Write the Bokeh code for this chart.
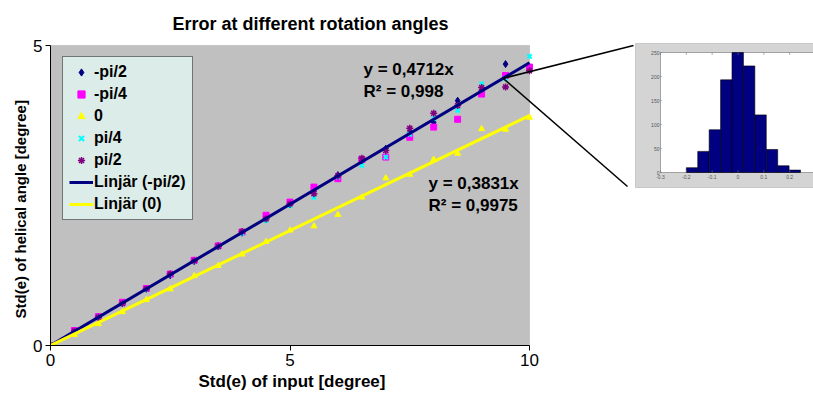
import math

from bokeh.core.properties import value
from bokeh.embed import file_html
from bokeh.models import BoxAnnotation, FixedTicker, Label, Range1d, Title
from bokeh.plotting import figure
from bokeh.resources import INLINE

# ---- data -------------------------------------------------------------
std_input = [0, 0.5, 1, 1.5, 2, 2.5, 3, 3.5, 4, 4.5, 5,
             5.5, 6, 6.5, 7, 7.5, 8, 8.5, 9, 9.5, 10]
angle_neg_pi2 = [0, 0.24, 0.47, 0.71, 0.95, 1.17, 1.41, 1.66, 1.88, 2.12, 2.35,
                 2.58, 2.84, 3.06, 3.28, 3.55, 3.72, 4.08, 4.25, 4.69, 4.60]
angle_neg_pi4 = [0, 0.25, 0.48, 0.72, 0.95, 1.19, 1.42, 1.66, 1.89, 2.17, 2.39,
                 2.64, 2.78, 3.10, 3.14, 3.47, 3.64, 3.77, 4.19, 4.50, 4.64]
angle_zero = [0, 0.18, 0.36, 0.56, 0.76, 0.94, 1.16, 1.33, 1.52, 1.73, 1.92,
              1.99, 2.18, 2.47, 2.79, 2.85, 3.10, 3.20, 3.61, 3.60, 3.80]
angle_pos_pi4 = [0, 0.23, 0.47, 0.70, 0.93, 1.18, 1.40, 1.64, 1.87, 2.08, 2.33,
                 2.47, 2.81, 3.00, 3.14, 3.52, 3.78, 3.92, 4.36, 4.45, 4.82]
angle_pos_pi2 = [0, 0.24, 0.47, 0.70, 0.94, 1.19, 1.41, 1.65, 1.90, 2.11, 2.36,
                 2.53, 2.83, 3.12, 3.25, 3.62, 3.87, 4.00, 4.30, 4.31, 4.58]

slope_neg_pi2 = 0.4712
r2_neg_pi2 = "0,998"
slope_zero = 0.3831
r2_zero = "0,9975"

x_ticks = [0, 5, 10]
y_ticks = [0, 5]

# histogram shown in the inset
hist_counts = [10, 44, 89, 193, 250, 222, 120, 48, 14, 5]
hist_first_edge = -0.2
hist_bin_width = 0.0442
inset_x_ticks = [-0.3, -0.2, -0.1, 0, 0.1, 0.2]
inset_x_labels = ["-0.3", "-0.2", "-0.1", "0", "0.1", "0.2"]
inset_y_ticks = [0, 50, 100, 150, 200, 250]

# ---- page geometry (pixels) -------------------------------------------
W, H = 813, 395
FRAME_L, FRAME_R, FRAME_T, FRAME_B = 50, 813, 42, 345
X_UNIT_PX = (529 - 50) / 10.0      # pixels per degree on x
Y_UNIT_PX = (345 - 45) / 5.0       # pixels per degree on y


def px_x(px):
    return (px - FRAME_L) / X_UNIT_PX


def px_y(py):
    return (FRAME_B - py) / Y_UNIT_PX


FONT = "Liberation Sans"

p = figure(
    width=W, height=H,
    x_range=Range1d(0, px_x(FRAME_R)), y_range=Range1d(0, px_y(FRAME_T)),
    output_backend="svg", toolbar_location=None,
    min_border_left=FRAME_L, min_border_right=W - FRAME_R,
    min_border_top=FRAME_T, min_border_bottom=H - FRAME_B,
)
p.outline_line_color = None
p.grid.visible = False
p.background_fill_color = "white"
p.border_fill_color = "white"

# chart title and axis titles, placed over the grey plotting area (x 0..10)
p.title.text = "Error at different rotation angles"
p.title.align = "left"
p.title.vertical_align = "top"
p.title.offset = 122
p.title.standoff = 14
p.title.text_font = FONT
p.title.text_font_size = "18px"
p.title.text_font_style = "bold"
p.title.text_color = "black"

p.add_layout(Title(text="Std(e) of input [degree]", align="left", offset=148,
                   standoff=2, text_font=FONT, text_font_size="17px",
                   text_font_style="bold", text_color="black"), "below")
p.add_layout(Title(text="Std(e) of helical angle [degree]", align="left",
                   offset=27, standoff=4, text_font=FONT, text_font_size="15px",
                   text_font_style="bold", text_color="black"), "left")

# grey plotting area bounded by the axes
p.add_layout(BoxAnnotation(left=0, right=10, bottom=0, top=5,
                           fill_color="#c0c0c0", fill_alpha=1.0,
                           line_color="#8c8c8c", line_width=1, level="underlay"))

for ax, bounds, ticks in ((p.xaxis, (0, 10), x_ticks), (p.yaxis, (0, 5), y_ticks)):
    ax.bounds = bounds
    ax.ticker = FixedTicker(ticks=ticks)
    ax.minor_tick_line_color = None
    ax.major_tick_in = 0
    ax.major_tick_out = 5
    ax.axis_line_color = "black"
    ax.major_tick_line_color = "black"
    ax.major_label_text_font = FONT
    ax.major_label_text_font_size = "17px"
    ax.major_label_text_color = "black"
    ax.major_label_standoff = 3

# ---- measured points --------------------------------------------------
p.scatter(std_input, angle_neg_pi2, marker="diamond", size=7,
          fill_color="#000080", line_color="#000080", legend_label="-pi/2")
p.scatter(std_input, angle_neg_pi4, marker="square", size=6,
          fill_color="#ff00ff", line_color="#ff00ff", legend_label="-pi/4")
p.scatter(std_input, angle_zero, marker="triangle", size=6,
          fill_color="#ffff00", line_color="#ffff00", legend_label="0")
p.scatter(std_input, angle_pos_pi4, marker="x", size=6,
          line_color="#00ffff", line_width=2, legend_label="pi/4")
p.scatter(std_input, angle_pos_pi2, marker="asterisk", size=7,
          line_color="#800080", line_width=1.5, legend_label="pi/2")

# ---- linear trend lines through the origin -----------------------------
x_fit = [0, 10]
p.line(x_fit, [slope_neg_pi2 * x for x in x_fit], line_color="#000080",
       line_width=3, legend_label="Linjär (-pi/2)")
p.line(x_fit, [slope_zero * x for x in x_fit], line_color="#ffff00",
       line_width=3, legend_label="Linjär (0)")

leg = p.legend[0]
leg.location = (12, FRAME_B - 220)
leg.background_fill_color = "#dcece8"
leg.background_fill_alpha = 1.0
leg.border_line_color = "black"
leg.border_line_width = 1
leg.label_text_font = FONT
leg.label_text_font_style = "bold"
leg.label_text_font_size = "16px"
leg.label_text_color = "black"
leg.padding = 6
leg.spacing = 4
leg.margin = 0
leg.glyph_width = 24
leg.glyph_height = 18
leg.label_height = 18
leg.label_standoff = 1

# ---- trend-line equations -----------------------------------------------
def add_text(x, y, text, size="17px"):
    p.add_layout(Label(x=x, y=y, text=text, text_font=FONT, text_font_size=size,
                       text_font_style="bold", text_align="left",
                       text_baseline="middle", text_color="black"))


add_text(px_x(363), px_y(69), f"y = {str(slope_neg_pi2).replace('.', ',')}x")
add_text(px_x(363), px_y(91), f"R² = {r2_neg_pi2}")
add_text(px_x(428), px_y(183), f"y = {str(slope_zero).replace('.', ',')}x")
add_text(px_x(428), px_y(205), f"R² = {r2_zero}")

# ---- zoomed histogram inset --------------------------------------------
zoom_x = 9.45
zoom_y = slope_neg_pi2 * zoom_x
p.segment(x0=[zoom_x, zoom_x], y0=[zoom_y, zoom_y],
          x1=[px_x(633), px_x(627)], y1=[px_y(45), px_y(186)],
          line_color="black", line_width=1.5)
p.quad(left=px_x(635), right=px_x(FRAME_R), bottom=px_y(187), top=px_y(43),
       fill_color="#d4d4d4", line_color="#c8c8c8")

ins = p.subplot(
    x_source=Range1d(-0.3, 0.3), y_source=Range1d(0, 250),
    x_target=Range1d(px_x(660), px_x(815)), y_target=Range1d(px_y(172), px_y(52)),
)
ins.quad(left=-0.3, right=0.3, bottom=0, top=250,
         fill_color="white", line_color="#707070", line_width=0.6)
edges = [hist_first_edge + i * hist_bin_width for i in range(len(hist_counts) + 1)]
ins.quad(left=edges[:-1], right=edges[1:], bottom=0, top=hist_counts,
         fill_color="#000080", line_color="black", line_width=0.6)
ins.segment(x0=inset_x_ticks, y0=[0] * 6, x1=inset_x_ticks, y1=[5] * 6,
            line_color="#707070", line_width=0.6)
ins.segment(x0=inset_x_ticks, y0=[250] * 6, x1=inset_x_ticks, y1=[245] * 6,
            line_color="#707070", line_width=0.6)
ins.segment(x0=[-0.3] * 6, y0=inset_y_ticks, x1=[-0.295] * 6, y1=inset_y_ticks,
            line_color="#707070", line_width=0.6)
ins.text(x=inset_x_ticks, y=[-5] * 6, text=inset_x_labels,
         text_font=value(FONT), text_font_size="5px", text_color="#555555",
         text_align="center", text_baseline="top")
ins.text(x=[-0.304] * 6, y=inset_y_ticks, text=[str(v) for v in inset_y_ticks],
         text_font=value(FONT), text_font_size="5px", text_color="#555555",
         text_align="right", text_baseline="middle")

open("out.html", "w").write(file_html(p, INLINE))
